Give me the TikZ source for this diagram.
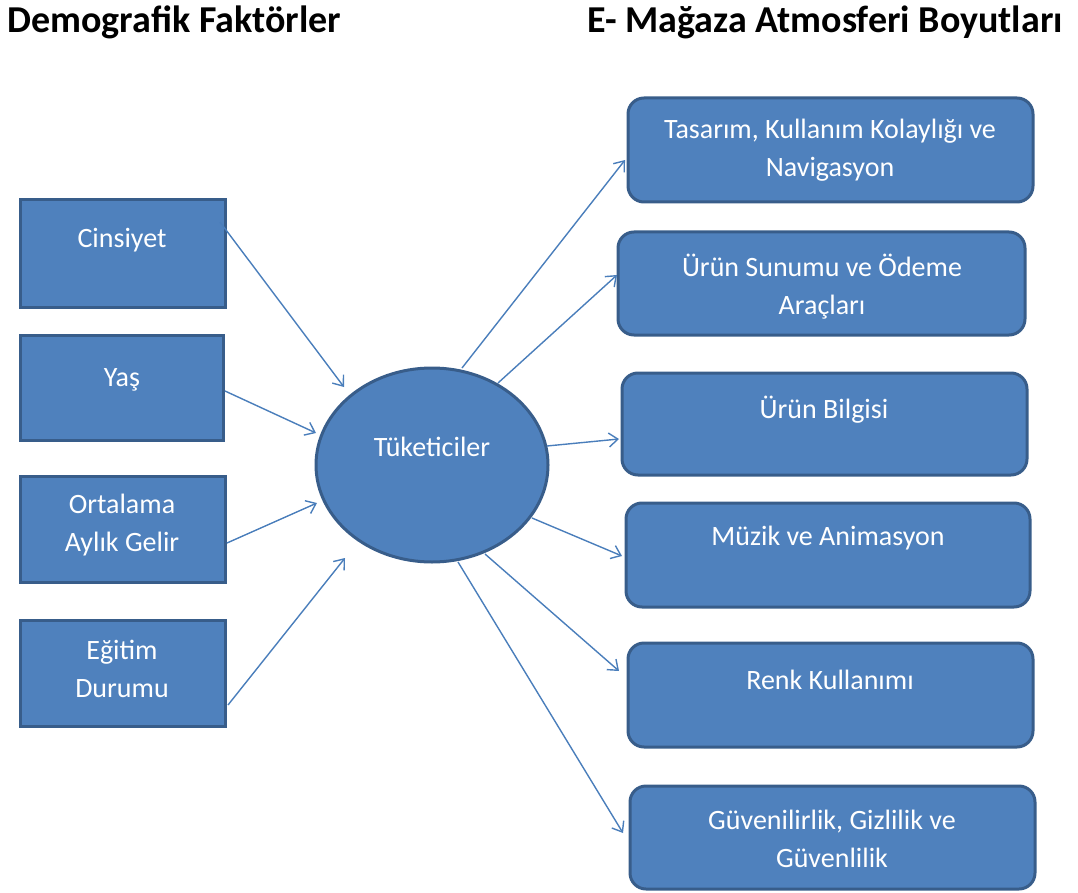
\documentclass[tikz,border=0pt]{standalone}
\usepackage{fontspec}
\setmainfont{Carlito}
\usetikzlibrary{arrows.meta}
\definecolor{boxfill}{HTML}{4F81BD}
\definecolor{boxline}{HTML}{385D8A}
\definecolor{arrowc}{HTML}{4A7EBB}
\begin{document}
\begin{tikzpicture}[x=1pt,y=-1pt,
  sqbox/.style={draw=boxline,fill=boxfill,line width=3pt},
  rbox/.style={draw=boxline,fill=boxfill,line width=3pt,rounded corners=16pt},
  lbl/.style={text=white,font=\fontsize{28}{38}\selectfont,align=center},
  title/.style={font=\fontsize{38}{40}\selectfont\bfseries,anchor=west},
  link/.style={draw=arrowc,line width=1.4pt,-{Straight Barb[length=9pt,width=14pt,line width=1.4pt]}}]
\useasboundingbox (0,0) rectangle (1078,893);

% headings
\node[title] (t1) at (4,22) {Demografik Faktörler};
\node[title] (t2) at (584,22) {E- Mağaza Atmosferi Boyutları};

% demographic factor boxes
\draw[sqbox] (20,200) rectangle (225,307);
\draw[sqbox] (20,335) rectangle (223,440);
\draw[sqbox] (20,476) rectangle (225,582);
\draw[sqbox] (20,620) rectangle (225,726);
\node[lbl] (b1) at (122,240) {Cinsiyet};
\node[lbl] (b2) at (122,380) {Yaş};
\node[lbl] (b3) at (122,525) {Ortalama\\Aylık Gelir};
\node[lbl] (b4) at (122,669) {Eğitim\\Durumu};

% consumers
\draw[draw=boxline,fill=boxfill,line width=3pt] (432,465) ellipse [x radius=116, y radius=97];
\node[lbl] (c) at (432,447) {Tüketiciler};

% e-store atmosphere boxes
\draw[rbox] (628,98) rectangle (1033,202);
\draw[rbox] (618,232) rectangle (1025,335);
\draw[rbox] (622,373) rectangle (1027,475);
\draw[rbox] (626,503) rectangle (1030,607);
\draw[rbox] (628,643) rectangle (1033,747);
\draw[rbox] (630,786) rectangle (1035,889);
\node[lbl] (r1) at (830,150) {Tasarım, Kullanım Kolaylığı ve\\Navigasyon};
\node[lbl] (r2) at (822,287) {Ürün Sunumu ve Ödeme\\Araçları};
\node[lbl] (r3) at (824,410) {Ürün Bilgisi};
\node[lbl] (r4) at (828,538) {Müzik ve Animasyon};
\node[lbl] (r5) at (830,680) {Renk Kullanımı};
\node[lbl] (r6) at (832,839) {Güvenilirlik, Gizlilik ve\\Güvenlilik};

% connector end points
\coordinate (s1) at (220,222);  \coordinate (e1) at (344,387);
\coordinate (s2) at (225,391);  \coordinate (e2) at (316,433);
\coordinate (s3) at (227,543);  \coordinate (e3) at (317,503);
\coordinate (s4) at (228,705);  \coordinate (e4) at (345,558);
\coordinate (o1) at (462,368);  \coordinate (f1) at (625,160);
\coordinate (o2) at (498,383);  \coordinate (f2) at (617,275);
\coordinate (o3) at (547,446);  \coordinate (f3) at (619,439);
\coordinate (o4) at (532,518);  \coordinate (f4) at (622,556);
\coordinate (o5) at (485,554);  \coordinate (f5) at (619,671);
\coordinate (o6) at (458,562);  \coordinate (f6) at (623,833);

\foreach \a/\b in {s1/e1,s2/e2,s3/e3,s4/e4,o1/f1,o2/f2,o3/f3,o4/f4,o5/f5,o6/f6}
  \draw[link] (\a) -- (\b);
\end{tikzpicture}
\end{document}
